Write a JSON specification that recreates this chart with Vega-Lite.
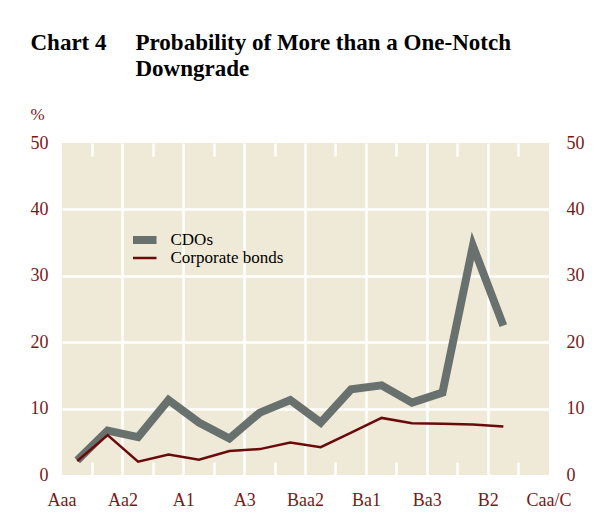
{
  "$schema": "https://vega.github.io/schema/vega-lite/v6.json",
  "width": 487,
  "height": 332,
  "autosize": "none",
  "padding": {"left": 62, "top": 143, "right": 45, "bottom": 45},
  "background": "white",
  "config": {
    "view": {"fill": "#efe9d8", "stroke": null},
    "font": "Liberation Serif",
    "axis": {"labelFont": "Liberation Serif", "titleFont": "Liberation Serif", "labelColor": "#7a1818", "labelFontSize": 18}
  },
  "data": {
    "values": [
      {"rating": "Aaa", "series": "CDOs", "value": 2.2},
      {"rating": "Aa1", "series": "CDOs", "value": 6.7},
      {"rating": "Aa2", "series": "CDOs", "value": 5.7},
      {"rating": "Aa3", "series": "CDOs", "value": 11.3},
      {"rating": "A1", "series": "CDOs", "value": 7.9},
      {"rating": "A2", "series": "CDOs", "value": 5.5},
      {"rating": "A3", "series": "CDOs", "value": 9.4},
      {"rating": "Baa1", "series": "CDOs", "value": 11.3},
      {"rating": "Baa2", "series": "CDOs", "value": 7.9},
      {"rating": "Baa3", "series": "CDOs", "value": 12.9},
      {"rating": "Ba1", "series": "CDOs", "value": 13.5},
      {"rating": "Ba2", "series": "CDOs", "value": 10.9},
      {"rating": "Ba3", "series": "CDOs", "value": 12.4},
      {"rating": "B1", "series": "CDOs", "value": 34.5},
      {"rating": "B2", "series": "CDOs", "value": 22.5},
      {"rating": "Aaa", "series": "Corporate bonds", "value": 2.1},
      {"rating": "Aa1", "series": "Corporate bonds", "value": 6.0},
      {"rating": "Aa2", "series": "Corporate bonds", "value": 2.0},
      {"rating": "Aa3", "series": "Corporate bonds", "value": 3.1},
      {"rating": "A1", "series": "Corporate bonds", "value": 2.3},
      {"rating": "A2", "series": "Corporate bonds", "value": 3.6},
      {"rating": "A3", "series": "Corporate bonds", "value": 3.9},
      {"rating": "Baa1", "series": "Corporate bonds", "value": 4.9},
      {"rating": "Baa2", "series": "Corporate bonds", "value": 4.2},
      {"rating": "Baa3", "series": "Corporate bonds", "value": 6.4},
      {"rating": "Ba1", "series": "Corporate bonds", "value": 8.6},
      {"rating": "Ba2", "series": "Corporate bonds", "value": 7.8},
      {"rating": "Ba3", "series": "Corporate bonds", "value": 7.7},
      {"rating": "B1", "series": "Corporate bonds", "value": 7.6},
      {"rating": "B2", "series": "Corporate bonds", "value": 7.3}
    ]
  },
  "layer": [
    {
      "transform": [{"filter": "datum.series === 'CDOs'"}],
      "mark": {"type": "line", "strokeJoin": "miter", "strokeCap": "butt"},
      "encoding": {
        "x": {
          "field": "rating", "type": "nominal", "sort": null,
          "scale": {"type": "band", "domain": ["Aaa","Aa1","Aa2","Aa3","A1","A2","A3","Baa1","Baa2","Baa3","Ba1","Ba2","Ba3","B1","B2","B3","Caa/C"], "range": [0, 517.4375], "paddingInner": 0, "paddingOuter": 0},
          "axis": {
            "orient": "bottom",
            "values": ["Aaa","Aa1","Aa2","Aa3","A1","A2","A3","Baa1","Baa2","Baa3","Ba1","Ba2","Ba3","B1","B2","B3","Caa/C"],
            "bandPosition": 0,
            "domain": false,
            "grid": true, "gridColor": "white", "gridWidth": 2.5,
            "gridOpacity": {"condition": {"test": "indexof(['Aa2','A1','A3','Baa2','Ba1','Ba3','B2'], datum.value) >= 0", "value": 1}, "value": 0},
            "ticks": true, "tickColor": "white", "tickWidth": 2.5, "tickSize": -13,
            "tickOpacity": {"condition": {"test": "indexof(['Aa1','Aa3','A2','Baa1','Baa3','Ba2','B1','B3'], datum.value) >= 0", "value": 1}, "value": 0},
            "labelExpr": "indexof(['Aaa','Aa2','A1','A3','Baa2','Ba1','Ba3','B2','Caa/C'], datum.value) >= 0 ? datum.label : ''",
            "labelAngle": 0, "labelAlign": "center", "labelBaseline": "alphabetic", "labelPadding": 43, "labelOffset": -15.2,
            "labelOverlap": false, "labelBound": false, "labelFlush": false,
            "title": null
          }
        },
        "y": {
          "field": "value", "type": "quantitative",
          "scale": {"domain": [0, 50], "nice": false, "zero": true},
          "axis": {
            "orient": "left", "values": [0, 10, 20, 30, 40, 50],
            "domain": false, "ticks": false, "tickSize": 0,
            "grid": true, "gridColor": "white", "gridWidth": 2.5,
            "gridOpacity": {"condition": {"test": "datum.value > 0 && datum.value < 50", "value": 1}, "value": 0},
            "labelPadding": 14, "labelBaseline": "middle",
            "title": "%", "titleAngle": 0, "titleAlign": "left", "titleBaseline": "alphabetic",
            "titleX": -32, "titleY": -24, "titleFontSize": 17, "titleFontWeight": "normal", "titleColor": "#7a1818"
          }
        },
        "color": {
          "field": "series", "type": "nominal",
          "scale": {"domain": ["CDOs", "Corporate bonds"], "range": ["#68716e", "#6a0a0a"]},
          "legend": {"orient": "none", "legendX": 71, "legendY": 88, "title": null, "symbolType": "M-4,0H4", "symbolSize": 56.25, "labelFontSize": 17, "labelColor": "black", "labelFont": "Liberation Serif", "labelOffset": 20.5, "rowPadding": 0, "clipHeight": 18, "padding": 0}
        },
        "strokeWidth": {
          "field": "series", "type": "nominal",
          "scale": {"domain": ["CDOs", "Corporate bonds"], "range": [8, 2.5]},
          "legend": {"orient": "none", "legendX": 71, "legendY": 88, "title": null, "symbolType": "M-4,0H4", "symbolSize": 56.25, "labelFontSize": 17, "labelColor": "black", "labelFont": "Liberation Serif", "labelOffset": 20.5, "rowPadding": 0, "clipHeight": 18, "padding": 0}
        }
      }
    },
    {
      "transform": [{"filter": "datum.series === 'Corporate bonds'"}],
      "mark": {"type": "line", "strokeJoin": "miter", "strokeCap": "butt"},
      "encoding": {
        "x": {
          "field": "rating", "type": "nominal", "sort": null,
          "axis": {
            "orient": "top",
            "values": ["Aa1","Aa3","A2","Baa1","Baa3","Ba2","B1","B3"],
            "bandPosition": 0,
            "domain": false, "grid": false, "labels": false,
            "ticks": true, "tickColor": "white", "tickWidth": 2.5, "tickSize": -13,
            "title": "Chart 4", "titleAngle": 0, "titleAlign": "left", "titleBaseline": "alphabetic",
            "titleX": -32, "titleY": -94, "titleFontSize": 23, "titleFontWeight": "bold", "titleColor": "black"
          }
        },
        "y": {
          "field": "value", "type": "quantitative",
          "axis": {
            "orient": "right", "values": [0, 10, 20, 30, 40, 50],
            "domain": false, "ticks": false, "tickSize": 0, "grid": false,
            "labelPadding": 17, "labelBaseline": "middle", "labelAlign": "left",
            "title": ["Probability of More than a One-Notch", "Downgrade"],
            "titleAngle": 0, "titleAlign": "left", "titleBaseline": "alphabetic",
            "titleX": -414, "titleY": -94, "titleLineHeight": 26,
            "titleFontSize": 23, "titleFontWeight": "bold", "titleColor": "black"
          }
        },
        "color": {"field": "series", "type": "nominal"},
        "strokeWidth": {"field": "series", "type": "nominal"}
      }
    }
  ],
  "resolve": {"axis": {"x": "independent", "y": "independent"}}
}
